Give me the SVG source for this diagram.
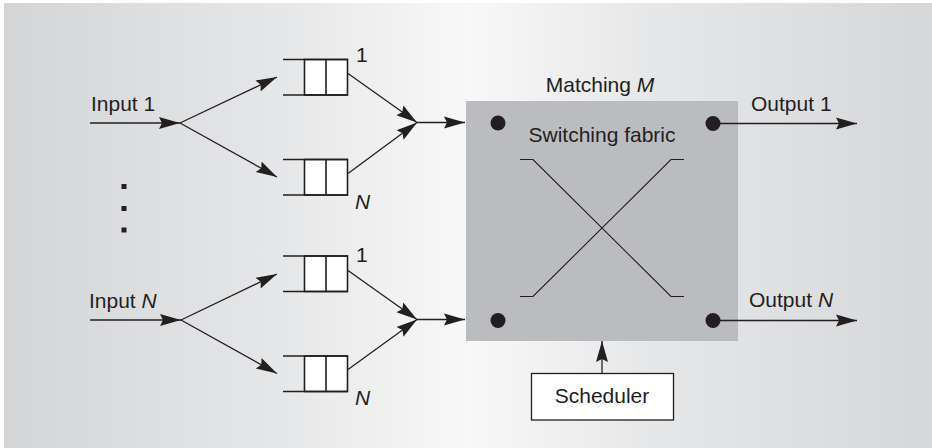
<svg xmlns="http://www.w3.org/2000/svg" width="932" height="448" viewBox="0 0 932 448">
<defs>
<linearGradient id="bg" x1="0" y1="0" x2="1" y2="0">
<stop offset="0" stop-color="#d4d5d7"/>
<stop offset="0.3" stop-color="#e6e7e8"/>
<stop offset="0.5" stop-color="#f8f8f8"/>
<stop offset="0.7" stop-color="#e6e7e8"/>
<stop offset="1" stop-color="#d6d7d9"/>
</linearGradient>
<marker id="arr" markerUnits="userSpaceOnUse" markerWidth="23" markerHeight="14" refX="21" refY="7" orient="auto">
<path d="M0,1 L21,7 L0,13 L3,7 z" fill="#231f20"/>
</marker>
<style>
.t{font-family:"Liberation Sans",Arial,sans-serif;font-size:21px;fill:#231f20}
.i{font-style:italic}
.ca{stroke:#231f20;stroke-width:1.3;fill:none;marker-end:url(#arr)}
.q{stroke:#231f20;stroke-width:1.6;fill:none}
.cell{fill:#ffffff;stroke:#231f20;stroke-width:1.6}
.dot{fill:#231f20}
.x{stroke:#231f20;stroke-width:1.1;fill:none}
</style>
</defs>
<rect x="0" y="0" width="932" height="448" fill="#ffffff"/>
<rect x="4" y="3" width="928" height="445" fill="url(#bg)"/>

<g id="fabric">
<rect x="466" y="101" width="272" height="240" fill="#bbbcc0"/>
<text class="t" x="602" y="142" text-anchor="middle">Switching fabric</text>
<path class="x" d="M520,159.5 H533 L671,296.5 H684"/>
<path class="x" d="M520,296.5 H533 L671,159.5 H684"/>
<circle class="dot" cx="498" cy="123" r="7.5"/>
<circle class="dot" cx="713" cy="123.5" r="7.5"/>
<circle class="dot" cx="498" cy="320.5" r="7.5"/>
<circle class="dot" cx="713" cy="320.5" r="7.5"/>
</g>
<g id="matching-label"><text class="t" x="600" y="92" text-anchor="middle">Matching <tspan class="i">M</tspan></text></g>

<g id="scheduler">
<rect x="531.5" y="373.5" width="142" height="46.5" fill="#ffffff" stroke="#231f20" stroke-width="1.3"/>
<text class="t" x="602" y="403" text-anchor="middle">Scheduler</text>
</g>

<g id="input1-label"><text class="t" x="91" y="111">Input 1</text></g>
<g id="inputN-label"><text class="t" x="89" y="308">Input <tspan class="i">N</tspan></text></g>
<g id="output1-label"><text class="t" x="751" y="111">Output 1</text></g>
<g id="outputN-label"><text class="t" x="749" y="307">Output <tspan class="i">N</tspan></text></g>

<g id="ellipsis" fill="#231f20">
<rect x="121.5" y="184" width="5" height="5"/>
<rect x="121.5" y="206" width="5" height="5"/>
<rect x="121.5" y="227.5" width="5" height="5"/>
</g>

<g id="queue-1-1">
<rect class="cell" x="304.5" y="59.5" width="43" height="35.5"/>
<line class="q" x1="326" y1="59.5" x2="326" y2="95"/>
<path class="q" d="M283,59.5 H348 M283,95 H348"/>
<text class="t" x="356" y="62">1</text>
</g>
<g id="queue-1-N">
<rect class="cell" x="304.5" y="159.5" width="43" height="35.5"/>
<line class="q" x1="326" y1="159.5" x2="326" y2="195"/>
<path class="q" d="M283,159.5 H348 M283,195 H348"/>
<text class="t i" x="355" y="209">N</text>
</g>
<g id="queue-N-1">
<rect class="cell" x="304.5" y="256" width="43" height="35.5"/>
<line class="q" x1="326" y1="256" x2="326" y2="291.5"/>
<path class="q" d="M283,256 H348 M283,291.5 H348"/>
<text class="t" x="356" y="262">1</text>
</g>
<g id="queue-N-N">
<rect class="cell" x="304.5" y="356" width="43" height="35.5"/>
<line class="q" x1="326" y1="356" x2="326" y2="391.5"/>
<path class="q" d="M283,356 H348 M283,391.5 H348"/>
<text class="t i" x="355" y="405">N</text>
</g>

<g id="connectors">
<line class="ca" x1="90" y1="123" x2="180" y2="123"/>
<line class="ca" x1="180" y1="123" x2="277" y2="77"/>
<line class="ca" x1="180" y1="123" x2="277" y2="177"/>
<line class="ca" x1="348" y1="73.5" x2="417" y2="122.5"/>
<line class="ca" x1="348" y1="173.5" x2="417" y2="122.5"/>
<line class="ca" x1="417" y1="122.5" x2="465" y2="122.5"/>

<line class="ca" x1="90" y1="320" x2="181" y2="320"/>
<line class="ca" x1="181" y1="320" x2="277" y2="274"/>
<line class="ca" x1="181" y1="320" x2="277" y2="373.5"/>
<line class="ca" x1="348" y1="270.5" x2="417" y2="319.5"/>
<line class="ca" x1="348" y1="369.5" x2="417" y2="319.5"/>
<line class="ca" x1="417" y1="319.5" x2="465" y2="319.5"/>

<line class="ca" x1="713" y1="123.5" x2="857" y2="123.5"/>
<line class="ca" x1="713" y1="320.5" x2="857" y2="320.5"/>
<line class="ca" x1="602" y1="373.5" x2="602" y2="341"/>
</g>
</svg>
